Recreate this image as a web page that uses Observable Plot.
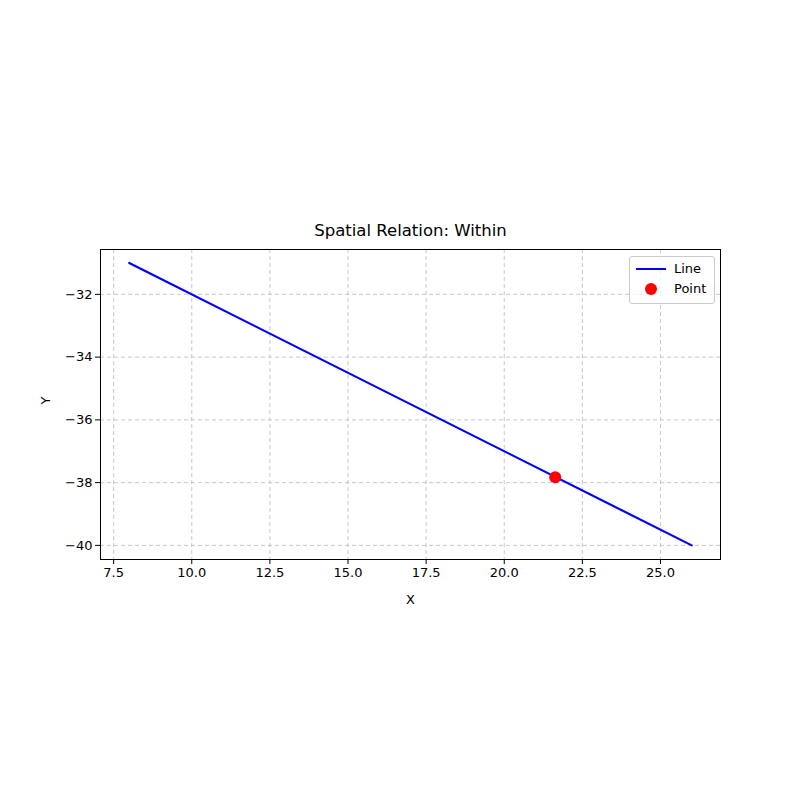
<!DOCTYPE html>
<html><head><meta charset="utf-8">
<script src="https://cdn.jsdelivr.net/npm/d3@7"></script>
<script src="https://cdn.jsdelivr.net/npm/@observablehq/plot@0.6"></script>
<style>
body{margin:0;background:#fff;font-family:"DejaVu Sans",sans-serif}
#wrap{position:relative;width:800px;height:800px}
#legend{position:absolute;left:629px;top:256px;width:84px;height:46px;border:1px solid #ccc;border-radius:3px;background:rgba(255,255,255,0.8);font-size:13px;color:#000}
.item{position:absolute;left:6px;display:flex;align-items:center;gap:8px}
</style></head><body>
<div id="wrap"></div>
<script>
// data
const lineX = [8, 26];
const lineY = [-31, -40];
const pointX = [21.63];
const pointY = [-37.83];
const xTicks = [7.5, 10, 12.5, 15, 17.5, 20, 22.5, 25];
const yTicks = [-32, -34, -36, -38, -40];

const lineData = lineX.map((x, i) => ({x, y: lineY[i]}));
const pointData = pointX.map((x, i) => ({x, y: pointY[i]}));

const plot = Plot.plot({
  width: 800, height: 800,
  marginLeft: 100, marginRight: 80, marginTop: 249, marginBottom: 241,
  style: {fontFamily: "DejaVu Sans, sans-serif", fontSize: "13px", color: "#000"},
  x: {domain: [7.08, 26.92], ticks: xTicks, tickFormat: d => d.toFixed(1), label: null, tickSize: 5},
  y: {domain: [-40.45, -30.57], ticks: yTicks, tickFormat: d => "\u2212" + Math.abs(d), label: null, tickSize: 5},
  marks: [
    Plot.gridX(xTicks, {stroke: "#b0b0b0", strokeOpacity: 0.7, strokeDasharray: "4,3"}),
    Plot.gridY(yTicks, {stroke: "#b0b0b0", strokeOpacity: 0.7, strokeDasharray: "4,3"}),
    Plot.frame({stroke: "#000"}),
    Plot.axisX(xTicks, {tickFormat: d => d.toFixed(1), tickSize: 5, tickPadding: 3}),
    Plot.axisY(yTicks, {tickFormat: d => "\u2212" + Math.abs(d), tickSize: 5, tickPadding: 3}),
    Plot.line(lineData, {x: "x", y: "y", stroke: "#0000ff", strokeWidth: 2.2}),
    Plot.dot(pointData, {x: "x", y: "y", fill: "#ff0000", r: 6}),
    Plot.text(["Spatial Relation: Within"], {frameAnchor: "top", dy: -14, lineAnchor: "bottom", fontSize: 16.5, fill: "#000"}),
    Plot.text(["X"], {frameAnchor: "bottom", dy: 35, lineAnchor: "top", fontSize: 13, fill: "#000"}),
    Plot.text(["Y"], {frameAnchor: "left", dx: -55, rotate: -90, fontSize: 13, fill: "#000"})
  ]
});
const wrap = document.getElementById("wrap");
wrap.appendChild(plot);
const lg = document.createElement("div");
lg.id = "legend";
lg.innerHTML = `<div class="item" style="top:4px"><svg width="30" height="14"><line x1="0" x2="30" y1="7" y2="7" stroke="#0000ff" stroke-width="2"/></svg><span>Line</span></div>
<div class="item" style="top:24px"><svg width="30" height="14"><circle cx="15" cy="7" r="6" fill="#ff0000"/></svg><span>Point</span></div>`;
wrap.appendChild(lg);
</script></body></html>
